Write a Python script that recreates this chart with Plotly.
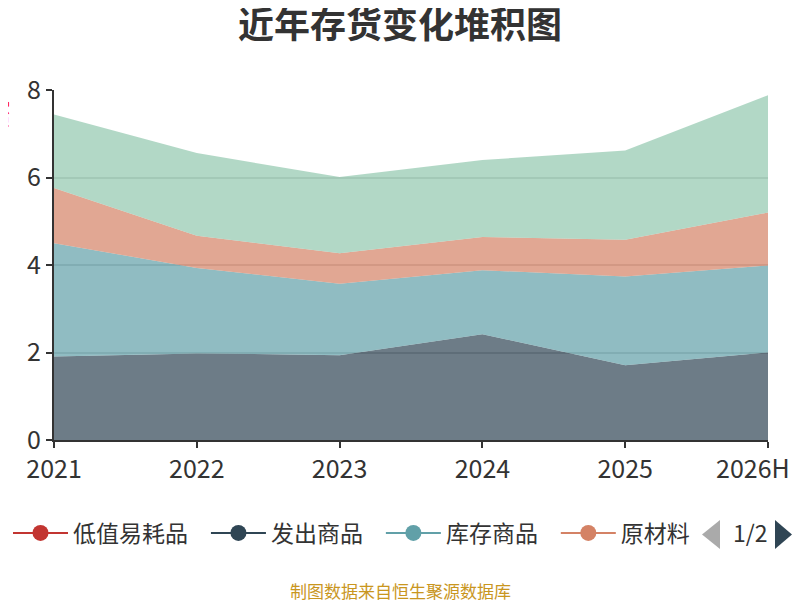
import plotly.graph_objects as go

years = ['2021', '2022', '2023', '2024', '2025', '2026H']

# 存货构成（亿元），按堆积顺序从下到上
dizhi = [0, 0, 0, 0, 0, 0]
fachu = [1.91, 1.98, 1.94, 2.42, 1.71, 2.00]
kucun = [2.59, 1.95, 1.63, 1.46, 2.03, 1.99]
yuancailiao = [1.26, 0.74, 0.70, 0.76, 0.84, 1.21]
zaichan = [1.68, 1.89, 1.74, 1.76, 2.04, 2.68]

names = ['低值易耗品', '发出商品', '库存商品', '原材料', '在产品']
series = [dizhi, fachu, kucun, yuancailiao, zaichan]
colors = ['#c23531', '#2f4554', '#61a0a8', '#d48265', '#91c7ae']
fills = ['rgba(194,53,49,0.7)', 'rgba(47,69,84,0.7)', 'rgba(97,160,168,0.7)',
         'rgba(212,130,101,0.7)', 'rgba(145,199,174,0.7)']

font = "Noto Sans CJK SC"

fig = go.Figure()
for name, vals, fc in zip(names, series, fills):
    fig.add_trace(go.Scatter(x=years, y=vals, name=name, stackgroup='one',
                             mode='lines', line=dict(width=0), fillcolor=fc,
                             showlegend=False))

# legend entries (first page only, like the paged legend)
pad = '\u2002\u200a'
for name, c in zip(names[:4], colors[:4]):
    fig.add_trace(go.Scatter(x=[None], y=[None], name=name + pad, mode='lines+markers',
                             line=dict(color=c, width=2),
                             marker=dict(color=c, size=22)))

# the page body adds 8px on top/left, so the figure is 792x592 and margins shift by -8
fig.update_layout(
    width=792, height=592,
    margin=dict(l=46, r=32, t=82, b=160, autoexpand=False),
    plot_bgcolor='white', paper_bgcolor='white',
    font=dict(family=font, color='#333'),
    title=dict(text='<b>近年存货变化堆积图</b>', x=0.495, xanchor='center',
               yref='container', y=0.9713, yanchor='middle',
               font=dict(size=36, color='#333')),
    legend=dict(orientation='h', xref='container', yref='container',
                x=-0.045, xanchor='left', y=0.1132, yanchor='middle',
                bgcolor='rgba(0,0,0,0)',
                font=dict(size=23, color='#333'), itemwidth=55,
                traceorder='normal'),
    showlegend=True,
)
# last category label is drawn separately so it can sit inside the canvas
fig.update_xaxes(type='category', range=[0, 5], showline=True, linecolor='#333',
                 linewidth=2, ticks='outside', ticklen=6, tickcolor='#333',
                 tickwidth=2, showgrid=False, automargin=False,
                 tickvals=years, ticktext=years[:-1] + [''],
                 tickfont=dict(size=25, color='#333'))
fig.update_yaxes(range=[0, 8], dtick=2, showline=True, linecolor='#333', linewidth=2,
                 ticks='outside', ticklen=6, tickcolor='#333', tickwidth=2,
                 gridcolor='#cccccc', gridwidth=1.5, zeroline=False, automargin=False,
                 tickfont=dict(size=25, color='#333'))

fig.add_annotation(text=years[-1], xref='x', yref='paper', x=years[-1], y=0,
                   xanchor='right', yanchor='top', xshift=24, yshift=-7,
                   showarrow=False, font=dict(size=25, color='#333'))
fig.add_annotation(text='亿元', textangle=-90, xref='paper', yref='paper',
                   x=-0.074, y=0.929, showarrow=False, xanchor='center', yanchor='middle',
                   font=dict(size=14, color='red'))

# legend pager: ◀ 1/2 ▶
fig.add_shape(type='path', xref='paper', yref='paper', layer='above',
              path='M 0.9328,-0.2286 L 0.9076,-0.27 L 0.9328,-0.3114 Z',
              fillcolor='#aaaaaa', line=dict(width=0))
fig.add_shape(type='path', xref='paper', yref='paper', layer='above',
              path='M 1.0098,-0.2286 L 1.0336,-0.27 L 1.0098,-0.3114 Z',
              fillcolor='#2f4554', line=dict(width=0))
fig.add_annotation(text='1/2', xref='paper', yref='paper', x=0.9755, y=-0.263,
                   showarrow=False, xanchor='center', yanchor='middle',
                   font=dict(size=23, color='#333'))
fig.add_annotation(text='制图数据来自恒生聚源数据库', xref='paper', yref='paper',
                   x=0.4846, y=-0.4286, showarrow=False, xanchor='center', yanchor='middle',
                   font=dict(size=17, color='#c9961e'))

fig.write_html("out.html")
